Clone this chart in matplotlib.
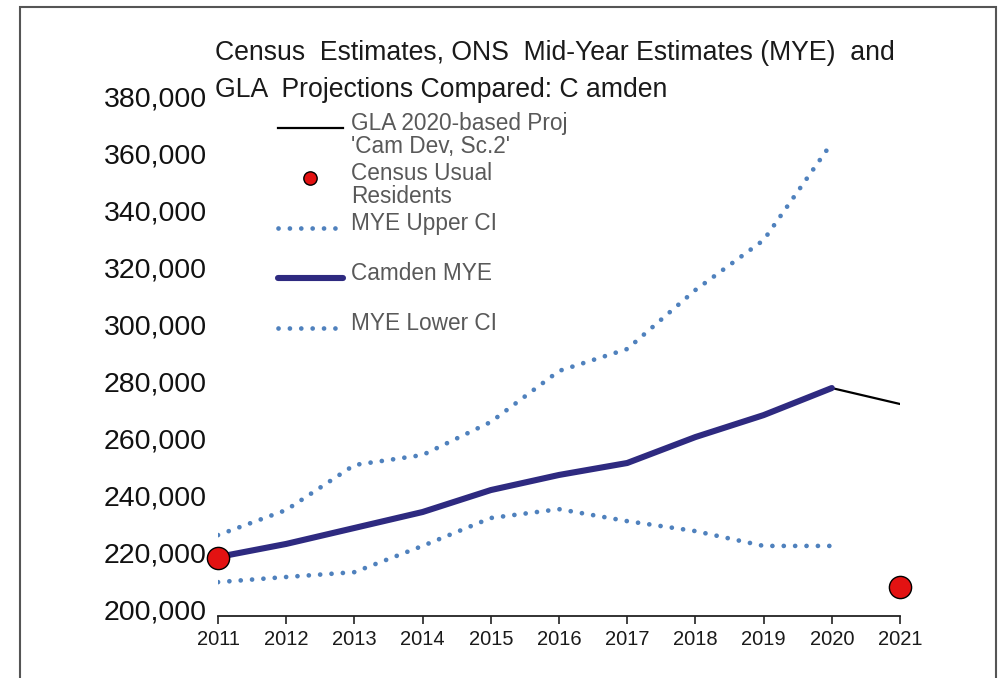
import matplotlib.pyplot as plt
import matplotlib.transforms as mtransforms
from matplotlib.patches import Rectangle

# values
years = [2011, 2012, 2013, 2014, 2015, 2016, 2017, 2018, 2019, 2020]
mye = [220700, 225300, 230900, 236500, 244200, 249500, 253700, 262800, 270500, 280000]
mye_upper = [228400, 237200, 253000, 256500, 268100, 286000, 293700, 314400, 331900, 366000]
mye_lower = [211900, 213700, 215400, 224600, 234400, 237500, 233300, 229800, 224600, 224600]

gla_years = [2020, 2021]
gla_proj = [280000, 274400]

census_years = [2011, 2021]
census = [220338, 210136]

y_ticks = list(range(200000, 380001, 20000))
x_ticks = list(range(2011, 2022))

plt.rcParams['font.family'] = ['Liberation Sans', 'DejaVu Sans']

fig = plt.figure(figsize=(10, 6.78), dpi=100)
ax = fig.add_axes([0.218, 0.0914, 0.682, 0.7566])

blue = '#4f81bd'
navy = '#2e2a80'
dots = (0, (0.01, 2.4))

# every legend entry gets two text rows, like the original Excel legend
ax.plot(gla_years, gla_proj, color='black', lw=1.6,
        label="GLA 2020-based Proj\n'Cam Dev, Sc.2'", zorder=3)
ax.plot(census_years, census, linestyle='none', marker='o', markersize=16,
        markerfacecolor='#e31212', markeredgecolor='black', markeredgewidth=1.0,
        label='Census Usual\nResidents', clip_on=False, zorder=5)
ax.plot(years, mye_upper, color=blue, lw=3.4, linestyle=dots,
        dash_capstyle='round', label='MYE Upper CI\n', zorder=2)
ax.plot(years, mye, color=navy, lw=4.4, solid_capstyle='round',
        label='Camden MYE\n', zorder=4)
ax.plot(years, mye_lower, color=blue, lw=3.4, linestyle=dots,
        dash_capstyle='round', label='MYE Lower CI\n', zorder=2)

ax.set_xlim(2011, 2021)
ax.set_ylim(200000, 380000)
ax.set_xticks(x_ticks)
ax.set_yticks(y_ticks)
ax.set_yticklabels([f'{v:,}' for v in y_ticks])

for s in ['top', 'right', 'left']:
    ax.spines[s].set_visible(False)
ax.spines['bottom'].set_color('#222222')
ax.spines['bottom'].set_linewidth(1.3)

ax.tick_params(axis='y', length=0, pad=8, labelsize=20.5, labelcolor='#111111')
ax.tick_params(axis='x', direction='out', length=6, width=1.2, color='#222222',
               pad=4, labelsize=14.5, labelcolor='#1a1a1a')
# y labels sit a little above their gridline positions in the original
shift = mtransforms.ScaledTranslation(0, 7 / 100, fig.dpi_scale_trans)
for t in ax.get_yticklabels():
    t.set_transform(t.get_transform() + shift)

fig.text(0.215, 0.922, 'Census  Estimates, ONS  Mid-Year Estimates (MYE)  and',
         fontsize=19.2, color='#1a1a1a', ha='left', va='center')
fig.text(0.215, 0.867, 'GLA  Projections Compared: C amden',
         fontsize=19.2, color='#1a1a1a', ha='left', va='center')

leg = ax.legend(loc='upper left', bbox_to_anchor=(0.075, 1.001), frameon=False,
                fontsize=16.3, handlelength=2.85, handletextpad=0.35,
                labelspacing=0.15, borderaxespad=0, markerscale=0.6)
for txt in leg.get_texts():
    txt.set_color('#595959')
    txt.set_linespacing(1.04)
# lift the legend keys towards the first text row
for ln in leg.get_lines():
    ln.set_ydata([y + 6 for y in ln.get_ydata()])

fig.patches.append(Rectangle((0.02, -0.05), 0.976, 1.0397, transform=fig.transFigure,
                             fill=False, edgecolor='#555555', lw=1.5))

fig.savefig('out.png', dpi=100)
